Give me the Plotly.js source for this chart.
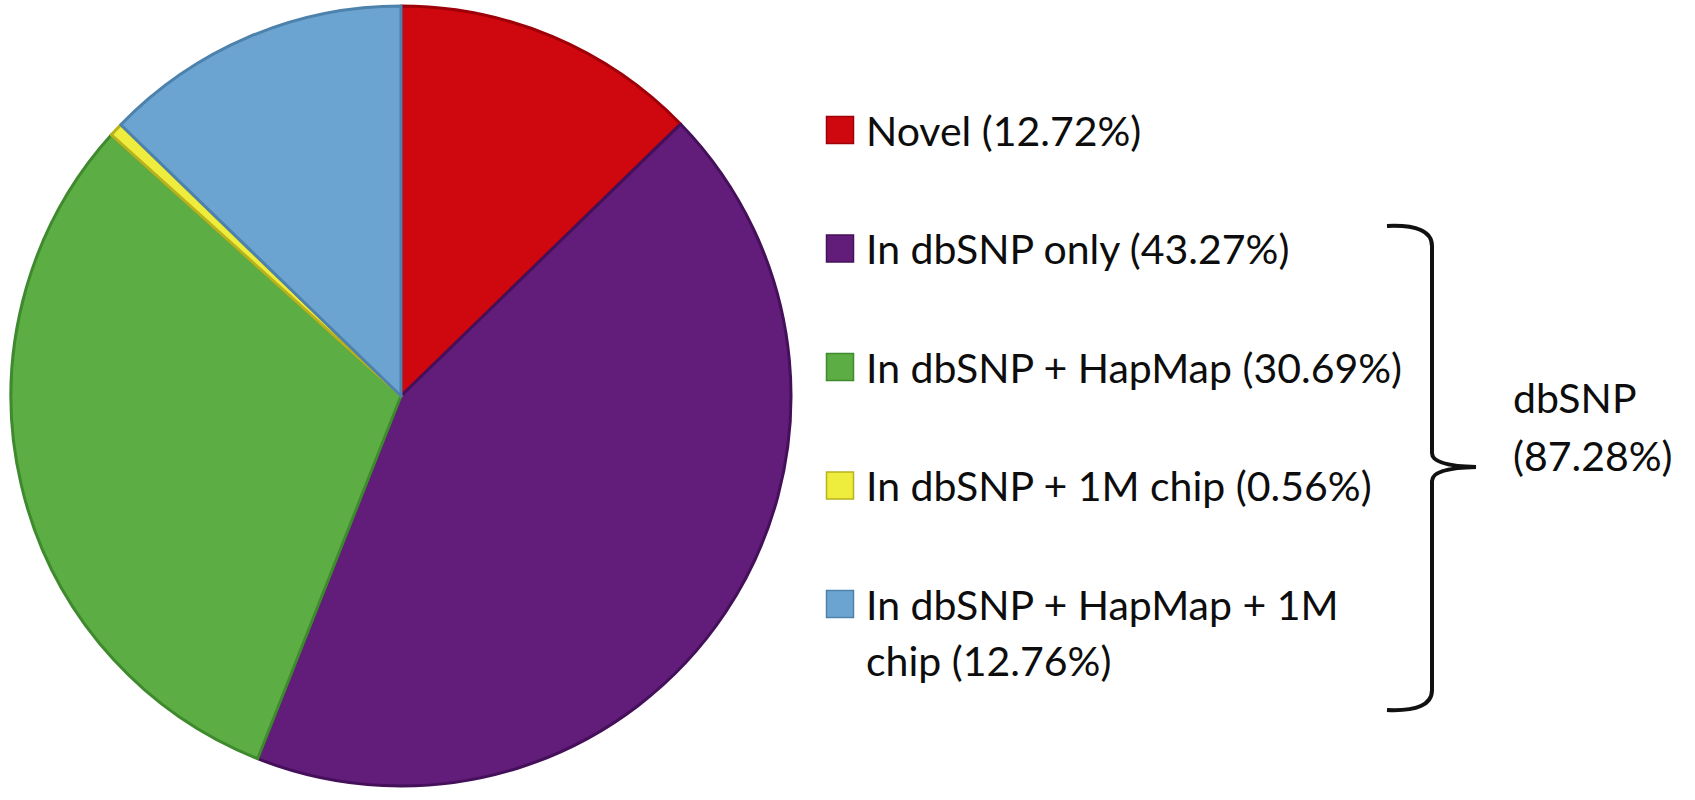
<!DOCTYPE html>
<html>
<head>
<meta charset="utf-8">
<script src="https://cdn.plot.ly/plotly-3.0.1.min.js"></script>
<style>html,body{margin:0;padding:0;background:#ffffff;}#chart{width:1695px;height:800px;}</style>
</head>
<body>
<div id="chart"></div>
<script>
// ---- data ----
var categories = ["Novel", "In dbSNP only", "In dbSNP + HapMap", "In dbSNP + 1M chip", "In dbSNP + HapMap + 1M chip"];
var values = [12.72, 43.27, 30.69, 0.56, 12.76];
var groupLabel = "dbSNP";
var groupValue = 87.28;

// ---- styles ----
var fillColors = ["#CF070E", "#621C7A", "#5DAD45", "#EEEC3C", "#6CA4D1"];
var edgeColors = ["#9E0009", "#45105A", "#3F8A2E", "#B8B21E", "#4C82AC"];
var FONT = "Lato, 'Open Sans', sans-serif";
var FS = 41;
var W = 1695, H = 800;

function wrap(s, n) {
  var words = s.split(" "), lines = [], cur = "";
  words.forEach(function (w) {
    var t = cur ? cur + " " + w : w;
    if (t.length > n && cur) { lines.push(cur); cur = w; } else { cur = t; }
  });
  lines.push(cur);
  return lines;
}

var labels = categories.map(function (c, i) { return c + " (" + values[i].toFixed(2) + "%)"; });

// pie geometry (pixels)
var cx = 401, cy = 396, r = 390;

var pie = {
  type: "pie",
  labels: labels,
  values: values,
  sort: false,
  direction: "clockwise",
  rotation: 0,
  textinfo: "none",
  hoverinfo: "label",
  showlegend: false,
  marker: { colors: fillColors, line: { color: edgeColors, width: 3 } },
  domain: { x: [(cx - r) / W, (cx + r) / W], y: [1 - (cy + r) / H, 1 - (cy - r) / H] }
};

// legend layout
var rowStart = 130, rowGap = 118.5, lineGap = 56;
var sqX = 840, textX = 864;
var legY = categories.map(function (c, i) { return rowStart + i * rowGap; });

var legendMarks = {
  type: "scatter",
  mode: "markers",
  x: categories.map(function () { return sqX; }),
  y: legY,
  marker: { symbol: "square", size: 27, color: fillColors, line: { color: edgeColors, width: 1.5 } },
  hoverinfo: "skip",
  showlegend: false,
  xaxis: "x", yaxis: "y"
};

var annotations = [];
labels.forEach(function (lab, i) {
  wrap(lab, 26).forEach(function (line, j) {
    annotations.push({
      x: textX, y: legY[i] + j * lineGap, xref: "x", yref: "y",
      text: line, showarrow: false, xanchor: "left", yanchor: "middle",
      font: { family: FONT, size: FS, color: "#0d0d0d" }
    });
  });
});

// brace + group label
var bx = 1432, bTop = 226, bBot = 710, tipX = 1476, tipY = 467, hookX = 1387;
var bracePath = "M " + hookX + " " + bTop +
  " Q " + bx + " " + (bTop - 2) + " " + bx + " " + (bTop + 20) +
  " L " + bx + " " + (tipY - 14) +
  " Q " + bx + " " + (tipY - 1) + " " + tipX + " " + tipY +
  " Q " + bx + " " + (tipY + 1) + " " + bx + " " + (tipY + 14) +
  " L " + bx + " " + (bBot - 20) +
  " Q " + bx + " " + (bBot + 2) + " " + hookX + " " + bBot;

[groupLabel, "(" + groupValue.toFixed(2) + "%)"].forEach(function (line, j) {
  annotations.push({
    x: 1511, y: 397 + j * 58, xref: "x", yref: "y",
    text: line, showarrow: false, xanchor: "left", yanchor: "middle",
    font: { family: FONT, size: FS, color: "#0d0d0d" }
  });
});

var layout = {
  width: W, height: H,
  margin: { l: 0, r: 0, t: 0, b: 0, pad: 0 },
  paper_bgcolor: "#ffffff",
  plot_bgcolor: "rgba(0,0,0,0)",
  xaxis: { range: [0, W], visible: false, fixedrange: true, domain: [0, 1] },
  yaxis: { range: [H, 0], visible: false, fixedrange: true, domain: [0, 1] },
  shapes: [{ type: "path", xref: "x", yref: "y", path: bracePath, line: { color: "#111111", width: 4 } }],
  annotations: annotations
};

Plotly.newPlot("chart", [pie, legendMarks], layout, { displayModeBar: false, staticPlot: true });
</script>
</body>
</html>
